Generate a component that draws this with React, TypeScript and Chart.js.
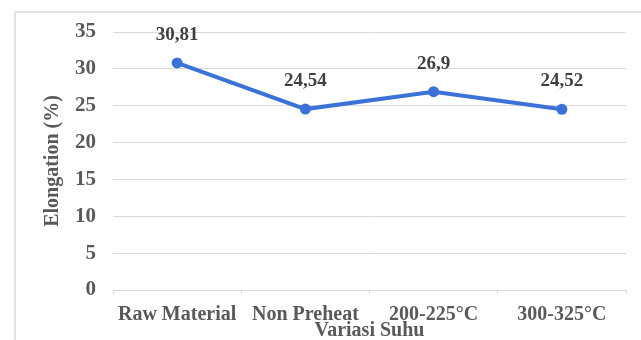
import React, { useEffect, useRef } from "react";
import { Chart, registerables } from "chart.js";

Chart.register(...registerables);

const categories = ["Raw Material", "Non Preheat", "200-225°C", "300-325°C"];
const elongation = [30.81, 24.54, 26.9, 24.52];
const valueLabels = ["30,81", "24,54", "26,9", "24,52"];
const yTitle = "Elongation (%)";
const xTitle = "Variasi Suhu";

const FONT = '"Liberation Serif", "Times New Roman", serif';

const framePlugin = {
  id: "frame",
  beforeDraw(chart: any) {
    const ctx = chart.ctx;
    ctx.save();
    ctx.strokeStyle = "#e2e2e2";
    ctx.lineWidth = 2;
    ctx.beginPath();
    ctx.moveTo(15, 340);
    ctx.lineTo(15, 12);
    ctx.lineTo(641, 12);
    ctx.stroke();
    ctx.restore();
  },
};

const labelPlugin = {
  id: "valueLabels",
  afterDatasetsDraw(chart: any) {
    const ctx = chart.ctx;
    const meta = chart.getDatasetMeta(0);
    ctx.save();
    ctx.font = `bold 19px ${FONT}`;
    ctx.fillStyle = "#404040";
    ctx.textAlign = "center";
    ctx.textBaseline = "middle";
    meta.data.forEach((pt: any, i: number) => {
      ctx.fillText(valueLabels[i], pt.x, pt.y - 28);
    });
    ctx.restore();
  },
};

export default function App() {
  const ref = useRef<HTMLCanvasElement | null>(null);
  useEffect(() => {
    if (!ref.current) return;
    const chart = new Chart(ref.current, {
      type: "line",
      data: {
        labels: categories,
        datasets: [
          {
            data: elongation,
            borderColor: "#3A72D8",
            backgroundColor: "#3A72D8",
            borderWidth: 4,
            pointRadius: 5.5,
            pointBackgroundColor: "#3A72D8",
            pointBorderWidth: 0,
            tension: 0,
          },
        ],
      },
      options: {
        responsive: false,
        animation: false,
        devicePixelRatio: 1,
        layout: { padding: { top: 32, right: 15, left: 0, bottom: 0 } },
        plugins: { legend: { display: false }, tooltip: { enabled: false } },
        scales: {
          x: {
            offset: true,
            grid: {
              display: true,
              drawOnChartArea: false,
              drawTicks: true,
              tickLength: 4,
              offset: true,
              color: "#d9d9d9",
            },
            border: { display: true, color: "#d9d9d9", width: 1 },
            ticks: {
              color: "#595959",
              font: { family: FONT, size: 20, weight: "bold", lineHeight: 1.2 },
              padding: 9,
              maxRotation: 0,
              autoSkip: false,
            },
            title: {
              display: true,
              text: xTitle,
              color: "#595959",
              font: { family: FONT, size: 20, weight: "bold", lineHeight: 0.9 },
              padding: { top: 0, bottom: 0 },
            },
            afterFit: (s: any) => {
              s.height = 50;
            },
          },
          y: {
            min: 0,
            max: 35,
            ticks: {
              stepSize: 5,
              color: "#595959",
              font: { family: FONT, size: 21, weight: "bold" },
              padding: 17,
            },
            grid: { color: "#d9d9d9", drawTicks: false },
            border: { display: false },
            title: {
              display: true,
              text: yTitle,
              color: "#595959",
              font: { family: FONT, size: 20, weight: "bold", lineHeight: 1.2 },
              padding: { top: 41, bottom: 0 },
            },
            afterFit: (s: any) => {
              s.width = 113;
            },
          },
        },
      },
      plugins: [framePlugin, labelPlugin],
    });
    return () => chart.destroy();
  }, []);
  return (
    <div style={{ position: "fixed", left: 0, top: 0, width: 641, height: 340, background: "#fff" }}>
      <canvas ref={ref} width={641} height={340} style={{ width: 641, height: 340, display: "block" }} />
    </div>
  );
}
